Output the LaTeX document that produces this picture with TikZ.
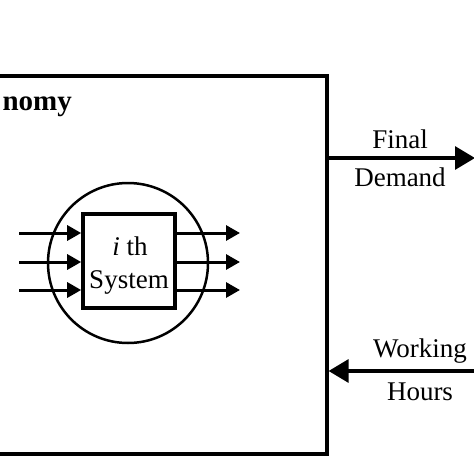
\documentclass[tikz,border=0pt]{standalone}
\usepackage{fontspec}
\setmainfont{Liberation Serif}
\usetikzlibrary{arrows.meta}
\begin{document}
\begin{tikzpicture}[x=1pt,y=-1pt,
  txt/.style={inner sep=0pt,anchor=base,font=\fontsize{27}{30}\selectfont},
  bigarr/.style={line width=3.2pt,-{Triangle[length=20pt,width=23pt]}},
  smallarr/.style={line width=3pt,-{Triangle[length=14pt,width=15pt]}}]
\clip (0,0) rectangle (474,474);
\node[draw,line width=3.2pt,minimum width=347pt,minimum height=378pt,inner sep=0pt] (econ) at (153.5,265) {};
\node[inner sep=0pt,anchor=base east,font=\fontsize{29}{32}\selectfont\bfseries] (title) at (72,110) {nomy};
\node[draw,circle,line width=2.5pt,minimum size=160pt,inner sep=0pt] (circ) at (128,263) {};
\node[draw,line width=3.6pt,minimum width=92pt,minimum height=94pt,inner sep=0pt,fill=white] (sys) at (129,261) {};
\node[txt] (l1) at (130,255) {\textit{i} th};
\node[txt] (l2) at (129,288) {System};
% inputs
\coordinate (i1) at (19,233);
\coordinate (i2) at (19,262);
\coordinate (i3) at (19,290);
\draw[smallarr] (i1) -- (i1 -| sys.west);
\draw[smallarr] (i2) -- (i2 -| sys.west);
\draw[smallarr] (i3) -- (i3 -| sys.west);
% outputs
\coordinate (o1) at (240,233);
\coordinate (o2) at (240,262);
\coordinate (o3) at (240,290);
\draw[smallarr] (o1 -| sys.east) -- (o1);
\draw[smallarr] (o2 -| sys.east) -- (o2);
\draw[smallarr] (o3 -| sys.east) -- (o3);
% final demand
\coordinate (fd) at (475,158);
\draw[bigarr] (fd -| econ.east) -- (fd);
\node[txt] (fdl1) at (400,148) {Final};
\node[txt] (fdl2) at (400,186) {Demand};
% working hours
\coordinate (wh) at (475,371);
\draw[bigarr] (wh) -- (wh -| econ.east);
\node[txt] (whl1) at (420,357) {Working};
\node[txt] (whl2) at (420,400) {Hours};
\end{tikzpicture}
\end{document}
